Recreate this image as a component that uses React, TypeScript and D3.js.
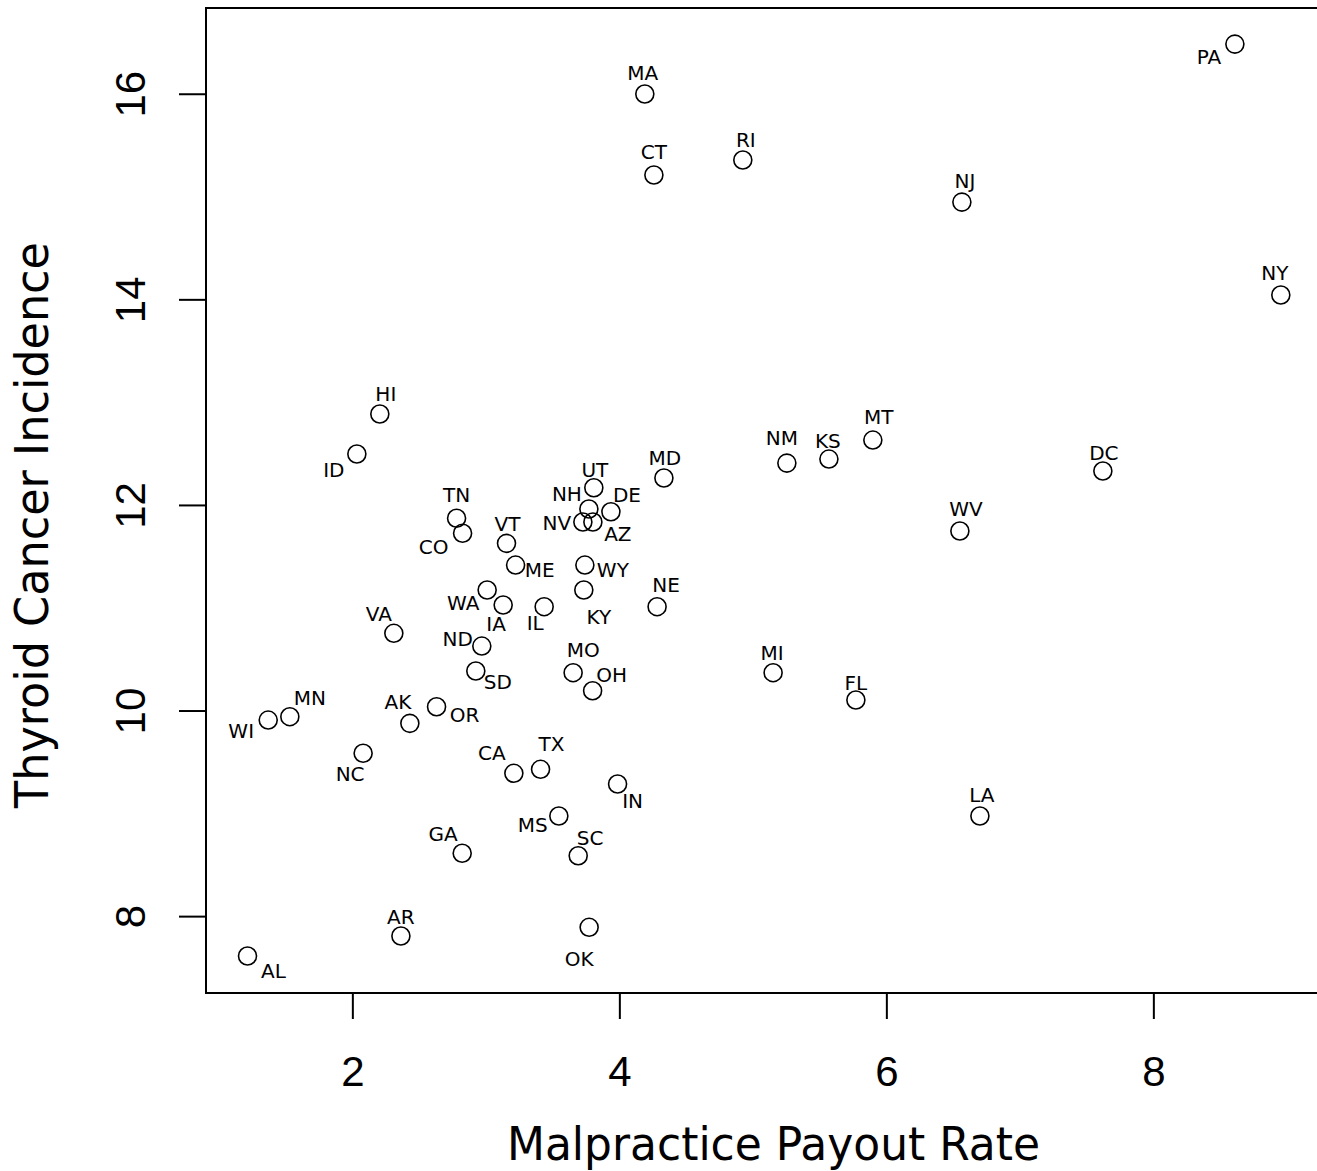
import React from "react";
import * as d3 from "d3";

// ---- data ----
const states = [
  "AL","AK","AZ","AR","CA","CO","CT","DE","DC","FL","GA","HI","ID","IL","IN","IA","KS",
  "KY","LA","ME","MD","MA","MI","MN","MS","MO","MT","NE","NV","NH","NJ","NM","NY","NC",
  "ND","OH","OK","OR","PA","RI","SC","SD","TN","TX","UT","VT","VA","WA","WV","WI","WY",
];
const payoutRate = [
  1.211, 2.427, 3.798, 2.36, 3.206, 2.822, 4.255, 3.933, 7.618, 5.768, 2.819, 2.202, 2.03,
  3.433, 3.983, 3.126, 5.566, 3.73, 6.697, 3.219, 4.33, 4.187, 5.148, 1.528, 3.543, 3.65,
  5.895, 4.279, 3.723, 3.768, 6.562, 5.251, 8.951, 2.077, 2.966, 3.796, 3.77, 2.627, 8.607,
  4.921, 3.688, 2.921, 2.777, 3.406, 3.805, 3.151, 2.307, 3.006, 6.547, 1.366, 3.738,
];
const thyroidIncidence = [
  7.617, 9.88, 11.839, 7.811, 9.394, 11.729, 15.214, 11.939, 12.335, 10.107, 8.616, 12.889,
  12.5, 11.015, 9.29, 11.031, 12.451, 11.177, 8.979, 11.42, 12.267, 16.002, 10.373, 9.945,
  8.979, 10.373, 12.636, 11.015, 11.839, 11.965, 14.951, 12.412, 14.047, 9.589, 10.632,
  10.197, 7.896, 10.042, 16.488, 15.36, 8.592, 10.389, 11.875, 9.433, 12.172, 11.631,
  10.756, 11.177, 11.751, 9.912, 11.42,
];
const xTicks = [2, 4, 6, 8];
const yTicks = [8, 10, 12, 14, 16];
const xTitle = "Malpractice Payout Rate";
const yTitle = "Thyroid Cancer Incidence";

// ---- label placement (pixel nudges from each point, layout only) ----
const labelNudge: Record<string, [number, number]> = {
  AL: [26, 15], AK: [-12, -21], AZ: [25, 12], AR: [0, -19], CA: [-22, -20], CO: [-29, 14],
  CT: [0, -23], DE: [16, -17], DC: [1, -18], FL: [0, -17], GA: [-19, -19], HI: [6, -20],
  ID: [-23, 16], IL: [-9, 16], IN: [15, 17], IA: [-7, 19], KS: [-1, -18], KY: [15, 27],
  LA: [2, -21], ME: [24, 5], MD: [1, -20], MA: [-2, -21], MI: [-1, -20], MN: [20, -19],
  MS: [-26, 9], MO: [10, -23], MT: [6, -23], NE: [9, -22], NV: [-26, 1], NH: [-22, -15],
  NJ: [3, -21], NM: [-5, -25], NY: [-6, -22], NC: [-13, 21], ND: [-24, -7], OH: [19, -16],
  OK: [-10, 32], OR: [28, 8], PA: [-26, 13], RI: [3, -20], SC: [12, -18], SD: [22, 11],
  TN: [0, -23], TX: [11, -25], UT: [1, -18], VT: [1, -19], VA: [-15, -19], WA: [-24, 13],
  WV: [6, -22], WI: [-27, 11], WY: [28, 5],
};

const W = 1317;
const H = 1171;
const plotLeft = 206;
const plotRight = 1325;
const plotTop = 8;
const plotBottom = 993;

export default function App() {
  const x = d3.scaleLinear().domain([0.9, 9.282]).range([plotLeft, plotRight]);
  const y = d3.scaleLinear().domain([7.257, 16.839]).range([plotBottom, plotTop]);
  const labelFont = "'DejaVu Sans', Verdana, sans-serif";
  const tickFont = "'Liberation Sans', Arial, sans-serif";

  return (
    <svg
      width={W}
      height={H}
      style={{ position: "absolute", left: 0, top: 0, background: "#fff" }}
    >
      <rect x={0} y={0} width={W} height={H} fill="#fff" />
      {/* plot box */}
      <rect
        x={plotLeft}
        y={plotTop}
        width={plotRight - plotLeft}
        height={plotBottom - plotTop}
        fill="none"
        stroke="#000"
        strokeWidth={2}
      />
      {/* x axis ticks */}
      {xTicks.map((t) => (
        <g key={"xt" + t}>
          <line x1={x(t)} x2={x(t)} y1={plotBottom} y2={plotBottom + 26} stroke="#000" strokeWidth={2} />
          <text
            x={x(t)}
            y={1086}
            textAnchor="middle"
            fontFamily={tickFont}
            fontSize={42}
            fill="#000"
          >
            {t}
          </text>
        </g>
      ))}
      {/* y axis ticks */}
      {yTicks.map((t) => (
        <g key={"yt" + t}>
          <line x1={plotLeft - 27} x2={plotLeft} y1={y(t)} y2={y(t)} stroke="#000" strokeWidth={2} />
          <text
            transform={`translate(145,${y(t)}) rotate(-90)`}
            textAnchor="middle"
            fontFamily={tickFont}
            fontSize={42}
            fill="#000"
          >
            {t}
          </text>
        </g>
      ))}
      {/* axis titles */}
      <text
        x={773.5}
        y={1160}
        textAnchor="middle"
        fontFamily={labelFont}
        fontSize={46}
        textLength={533}
        lengthAdjust="spacingAndGlyphs"
        fill="#000"
      >
        {xTitle}
      </text>
      <text
        transform={`translate(48,525) rotate(-90)`}
        textAnchor="middle"
        fontFamily={labelFont}
        fontSize={46}
        textLength={566}
        lengthAdjust="spacingAndGlyphs"
        fill="#000"
      >
        {yTitle}
      </text>
      {/* points */}
      {states.map((s, i) => (
        <circle
          key={"p" + s}
          cx={x(payoutRate[i])}
          cy={y(thyroidIncidence[i])}
          r={9}
          fill="none"
          stroke="#000"
          strokeWidth={1.6}
        />
      ))}
      {/* labels */}
      {states.map((s, i) => {
        const [dx, dy] = labelNudge[s] || [0, -20];
        return (
          <text
            key={"l" + s}
            x={x(payoutRate[i]) + dx}
            y={y(thyroidIncidence[i]) + dy}
            textAnchor="middle"
            dominantBaseline="central"
            fontFamily={labelFont}
            fontSize={20}
            fill="#000"
          >
            {s}
          </text>
        );
      })}
    </svg>
  );
}
